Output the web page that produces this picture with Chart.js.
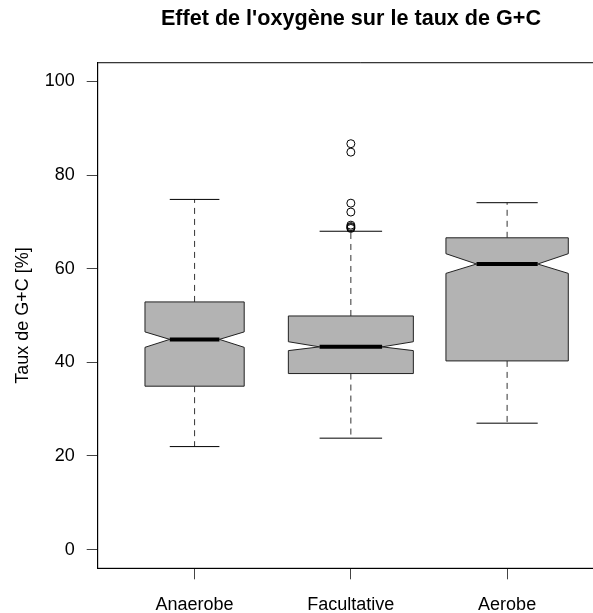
<!DOCTYPE html>
<html>
<head>
<meta charset="utf-8">
<script src="https://cdn.jsdelivr.net/npm/chart.js@4/dist/chart.umd.min.js"></script>
<style>
html,body{margin:0;padding:0;overflow:hidden;background:#fff;width:593px;height:613px;}
#wrap{position:relative;width:593px;height:613px;overflow:hidden;}
#wrap canvas{position:absolute;left:0;top:0;display:block;}
</style>
</head>
<body>
<div id="wrap"><canvas id="c" width="702" height="613"></canvas></div>
<script>
// ---- data ----
const categories   = ['Anaerobe', 'Facultative', 'Aerobe'];
const whiskerLow   = [22.0, 23.8, 27.0];
const q1           = [34.9, 37.6, 40.3];
const median       = [44.9, 43.3, 61.0];
const q3           = [52.9, 49.9, 66.6];
const whiskerHigh  = [74.8, 68.0, 74.1];
const notchLow     = [43.2, 42.5, 59.0];
const notchHigh    = [46.5, 44.4, 63.2];
const outlierGroup = [2, 2, 2, 2, 2, 2, 2, 2];
const outlierValue = [86.7, 84.9, 74.0, 72.1, 69.3, 69.0, 68.8, 68.6];
const yTicks       = [0, 20, 40, 60, 80, 100];
const xTicks       = [1, 2, 3];
// relative box widths (varwidth)
const boxWidth     = [0.635, 0.8, 0.783];

const FONT = "'Liberation Sans', Arial, Helvetica, sans-serif";
Chart.defaults.font.family = FONT;
Chart.defaults.font.size = 18;
Chart.defaults.color = '#000';

const boxPlugin = {
  id: 'notchedBoxes',
  beforeDatasetsDraw(chart) {
    const {ctx, chartArea: a, scales: {x, y}} = chart;
    ctx.save();
    // plot frame (left, top, bottom; right side lies beyond the visible page)
    ctx.strokeStyle = '#000';
    ctx.lineWidth = 1;
    ctx.setLineDash([]);
    ctx.beginPath();
    ctx.moveTo(a.right + 20, a.top); ctx.lineTo(a.left, a.top);
    ctx.lineTo(a.left, a.bottom); ctx.lineTo(a.right + 20, a.bottom);
    ctx.stroke();

    categories.forEach((c, i) => {
      const cx = x.getPixelForValue(i + 1);
      const hw = (x.getPixelForValue(i + 1 + boxWidth[i] / 2) - cx);
      const pQ1 = y.getPixelForValue(q1[i]);
      const pQ3 = y.getPixelForValue(q3[i]);
      const pMed = y.getPixelForValue(median[i]);
      const pNL = y.getPixelForValue(notchLow[i]);
      const pNH = y.getPixelForValue(notchHigh[i]);
      const pWL = y.getPixelForValue(whiskerLow[i]);
      const pWH = y.getPixelForValue(whiskerHigh[i]);

      // whiskers (dashed)
      ctx.strokeStyle = '#333';
      ctx.lineWidth = 1;
      ctx.setLineDash([6, 5]);
      ctx.beginPath();
      ctx.moveTo(cx, pQ1); ctx.lineTo(cx, pWL);
      ctx.moveTo(cx, pQ3); ctx.lineTo(cx, pWH);
      ctx.stroke();
      ctx.setLineDash([]);
      // caps
      ctx.strokeStyle = '#000';
      ctx.beginPath();
      ctx.moveTo(cx - hw / 2, pWL); ctx.lineTo(cx + hw / 2, pWL);
      ctx.moveTo(cx - hw / 2, pWH); ctx.lineTo(cx + hw / 2, pWH);
      ctx.stroke();

      // notched box
      ctx.beginPath();
      ctx.moveTo(cx - hw, pQ1);
      ctx.lineTo(cx + hw, pQ1);
      ctx.lineTo(cx + hw, pNL);
      ctx.lineTo(cx + hw / 2, pMed);
      ctx.lineTo(cx + hw, pNH);
      ctx.lineTo(cx + hw, pQ3);
      ctx.lineTo(cx - hw, pQ3);
      ctx.lineTo(cx - hw, pNH);
      ctx.lineTo(cx - hw / 2, pMed);
      ctx.lineTo(cx - hw, pNL);
      ctx.closePath();
      ctx.fillStyle = '#b3b3b3';
      ctx.fill();
      ctx.strokeStyle = '#222';
      ctx.lineWidth = 1;
      ctx.stroke();

      // median
      ctx.strokeStyle = '#000';
      ctx.lineWidth = 4;
      ctx.beginPath();
      ctx.moveTo(cx - hw / 2, pMed); ctx.lineTo(cx + hw / 2, pMed);
      ctx.stroke();
    });
    ctx.restore();
  }
};

new Chart(document.getElementById('c'), {
  type: 'scatter',
  data: {
    datasets: [{
      label: 'outliers',
      data: outlierValue.map((v, k) => ({x: outlierGroup[k], y: v})),
      pointStyle: 'circle',
      pointRadius: 4,
      pointHoverRadius: 4,
      borderColor: '#000',
      backgroundColor: 'rgba(0,0,0,0)',
      borderWidth: 1
    }]
  },
  options: {
    responsive: false,
    animation: false,
    events: [],
    layout: {padding: 0},
    plugins: {
      legend: {display: false},
      tooltip: {enabled: false},
      title: {
        display: true,
        text: "Effet de l'oxygène sur le taux de G+C",
        font: {size: 21.6, weight: 'bold', family: FONT},
        color: '#000',
        padding: {top: 6.5, bottom: 30.3}
      }
    },
    scales: {
      x: {
        type: 'linear',
        min: 0.38, max: 3.62,
        afterBuildTicks: s => { s.ticks = xTicks.map(v => ({value: v})); },
        afterFit: s => { s.height = 44.7; },
        ticks: {
          callback: v => categories[v - 1],
          padding: 15,
          autoSkip: false,
          maxRotation: 0,
          color: '#000'
        },
        grid: {display: true, drawOnChartArea: false, drawTicks: true, tickLength: 11, color: '#444'},
        border: {display: true, color: '#000'}
      },
      y: {
        type: 'linear',
        position: 'left',
        min: -4, max: 104,
        afterBuildTicks: s => { s.ticks = yTicks.map(v => ({value: v})); },
        afterFit: s => { s.width = 97.7; },
        ticks: {padding: 12, color: '#000'},
        grid: {display: true, drawOnChartArea: false, drawTicks: true, tickLength: 11, color: '#444'},
        border: {display: true, color: '#000'},
        title: {display: true, text: 'Taux de G+C [%]', font: {size: 18, family: FONT}, color: '#000', padding: {top: 12, bottom: 0}}
      },
      yMargin: {
        type: 'linear',
        position: 'right',
        min: -4, max: 104,
        afterBuildTicks: s => { s.ticks = []; },
        afterFit: s => { s.width = 98; },
        ticks: {display: false},
        grid: {display: false},
        border: {display: false}
      }
    }
  },
  plugins: [boxPlugin]
});
</script>
</body>
</html>
